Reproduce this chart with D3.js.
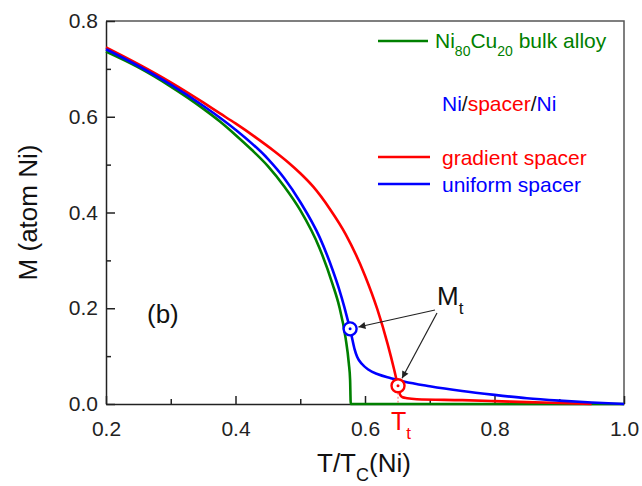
<!DOCTYPE html>
<html>
<head>
<meta charset="utf-8">
<script src="https://cdn.jsdelivr.net/npm/d3@7"></script>
<style>
  body { margin: 0; background: #fff; }
  svg { font-family: "Liberation Sans", Arial, sans-serif; }
</style>
</head>
<body>
<svg id="chart"></svg>
<script>
// data: T/Tc(Ni) vs M (atom Ni)
const bulkT = [0.2, 0.25, 0.3, 0.35, 0.376, 0.4, 0.425, 0.45, 0.475, 0.5, 0.53, 0.55, 0.56, 0.57, 0.575, 0.577, 0.578, 0.6, 1.0];
const bulkM = [0.736, 0.703, 0.663, 0.617, 0.590, 0.562, 0.531, 0.497, 0.455, 0.405, 0.325, 0.250, 0.205, 0.138, 0.085, 0.050, 0.0, 0.0, 0.0];

const uniformT = [0.2, 0.25, 0.3, 0.35, 0.376, 0.4, 0.45, 0.475, 0.5, 0.53, 0.55, 0.56, 0.568, 0.574, 0.577, 0.58, 0.584, 0.588, 0.595, 0.605, 0.62, 0.64, 0.66, 0.70, 0.75, 0.80, 0.85, 0.90, 0.95, 1.0];
const uniformM = [0.741, 0.706, 0.667, 0.623, 0.598, 0.573, 0.512, 0.472, 0.422, 0.348, 0.280, 0.240, 0.203, 0.172, 0.157, 0.138, 0.114, 0.098, 0.084, 0.072, 0.062, 0.054, 0.047, 0.037, 0.027, 0.019, 0.012, 0.007, 0.003, 0.0];

const gradientT = [0.2, 0.25, 0.3, 0.35, 0.376, 0.4, 0.43, 0.46, 0.482, 0.5, 0.52, 0.546, 0.57, 0.6, 0.619, 0.635, 0.645, 0.651, 0.654, 0.658, 0.665, 0.68, 0.75, 0.80, 0.85, 0.90, 0.95];
const gradientM = [0.745, 0.710, 0.672, 0.630, 0.607, 0.586, 0.558, 0.528, 0.504, 0.482, 0.454, 0.407, 0.355, 0.268, 0.198, 0.125, 0.072, 0.037, 0.020, 0.014, 0.012, 0.010, 0.008, 0.006, 0.004, 0.002, 0.0];

// transition points M_t
const mtT = [0.577, 0.651];
const mtM = [0.157, 0.038];

const xTicks = [0.2, 0.4, 0.6, 0.8, 1.0];
const yTicks = [0.0, 0.2, 0.4, 0.6, 0.8];

const green = '#008000', red = '#ff0000', blue = '#0000ff';

const W = 642, H = 486;
const margin = {top: 21, right: 18, bottom: 82, left: 106};
const width = W - margin.left - margin.right;
const height = H - margin.top - margin.bottom;

const svg = d3.select('#chart').attr('width', W).attr('height', H);

const x = d3.scaleLinear().domain([0.2, 1.0]).range([0, width]);
const y = d3.scaleLinear().domain([0, 0.8]).range([height, 0]);

const g = svg.append('g').attr('transform', 'translate(' + margin.left + ',' + margin.top + ')');

// frame (top/right)
g.append('path')
  .attr('d', 'M0,0H' + width + 'V' + height)
  .attr('fill', 'none').attr('stroke', '#555').attr('stroke-width', 1.5);

// axes with inward ticks
const xAxis = g.append('g').attr('transform', 'translate(0,' + height + ')')
  .call(d3.axisBottom(x).tickValues(xTicks).tickSizeInner(-8).tickSizeOuter(0).tickPadding(17).tickFormat(d3.format('.1f')));
const xMinor = g.append('g').attr('transform', 'translate(0,' + height + ')')
  .call(d3.axisBottom(x).tickValues([0.3, 0.5, 0.7, 0.9]).tickSize(-5).tickFormat(''));
const yAxis = g.append('g')
  .call(d3.axisLeft(y).tickValues(yTicks).tickSizeInner(-9).tickSizeOuter(0).tickPadding(8).tickFormat(d3.format('.1f')));
const yMinor = g.append('g')
  .call(d3.axisLeft(y).tickValues([0.1, 0.3, 0.5, 0.7]).tickSize(-5).tickFormat(''));

[xAxis, xMinor, yAxis, yMinor].forEach(a => {
  a.select('.domain').attr('stroke', '#222').attr('stroke-width', 1.5);
  a.selectAll('.tick line').attr('stroke', '#222').attr('stroke-width', 1.5);
  a.selectAll('.tick text').attr('fill', '#222').style('font-size', '21px').style('font-family', '"Liberation Sans", Arial, sans-serif');
});
xMinor.select('.domain').remove();
yMinor.select('.domain').remove();

// curves
const line = d3.line().x(d => x(d[0])).y(d => y(d[1])).curve(d3.curveMonotoneX);
const series = [
  {T: bulkT, M: bulkM, c: green},
  {T: gradientT, M: gradientM, c: red},
  {T: uniformT, M: uniformM, c: blue}
];
series.forEach(s => {
  g.append('path')
    .datum(s.T.map((t, i) => [t, s.M[i]]))
    .attr('d', line)
    .attr('fill', 'none')
    .attr('stroke', s.c)
    .attr('stroke-width', 2.6);
});

// dotted drop line below red marker
g.append('line')
  .attr('x1', x(mtT[1])).attr('x2', x(mtT[1]))
  .attr('y1', y(mtM[1]) + 7).attr('y2', y(0))
  .attr('stroke', '#ff8080').attr('stroke-width', 1.2).attr('stroke-dasharray', '2,2');

// M_t markers
const mtColors = [blue, red];
const r = 6.5;
mtT.forEach((t, i) => {
  g.append('circle').attr('cx', x(t)).attr('cy', y(mtM[i])).attr('r', r)
    .attr('fill', '#fff').attr('stroke', mtColors[i]).attr('stroke-width', 2.4);
  g.append('circle').attr('cx', x(t)).attr('cy', y(mtM[i])).attr('r', 1.5)
    .attr('fill', mtColors[i]);
});

// arrows from label M_t to markers
svg.append('defs').append('marker')
  .attr('id', 'arrow').attr('viewBox', '0 0 10 10')
  .attr('refX', 10).attr('refY', 5)
  .attr('markerWidth', 11).attr('markerHeight', 7)
  .attr('markerUnits', 'userSpaceOnUse')
  .attr('orient', 'auto')
  .append('path').attr('d', 'M0,0L10,5L0,10Z').attr('fill', '#222');

const arrowStarts = [[435 - margin.left, 310 - margin.top], [437 - margin.left, 313 - margin.top]];
mtT.forEach((t, i) => {
  const cx = x(t), cy = y(mtM[i]);
  const [sx, sy] = arrowStarts[i];
  const dx = sx - cx, dy = sy - cy, len = Math.hypot(dx, dy);
  const off = r + 2;
  g.append('line')
    .attr('x1', sx).attr('y1', sy)
    .attr('x2', cx + dx / len * off).attr('y2', cy + dy / len * off)
    .attr('stroke', '#222').attr('stroke-width', 1.2)
    .attr('marker-end', 'url(#arrow)');
});

// M_t label
const mt = svg.append('text').attr('x', 437).attr('y', 305).attr('fill', '#111').style('font-size', '26px');
mt.append('tspan').text('M');
mt.append('tspan').attr('dy', 9).style('font-size', '17px').text('t');

// T_t label
const tt = svg.append('text').attr('x', 391).attr('y', 430).attr('fill', red).style('font-size', '25px');
tt.append('tspan').text('T');
tt.append('tspan').attr('dy', 9).style('font-size', '17px').text('t');

// (b)
svg.append('text').attr('x', 147).attr('y', 323).attr('fill', '#111').style('font-size', '26px').text('(b)');

// axis titles
const xt = svg.append('text').attr('x', 317).attr('y', 472).attr('fill', '#111').style('font-size', '26px');
xt.append('tspan').text('T/T');
xt.append('tspan').attr('dy', 9).style('font-size', '18px').text('C');
xt.append('tspan').attr('dy', -9).text('(Ni)');

svg.append('text')
  .attr('transform', 'translate(37,' + (margin.top + height / 2) + ') rotate(-90)')
  .attr('text-anchor', 'middle').attr('fill', '#111').style('font-size', '26px')
  .text('M (atom Ni)');

// legend
const legend = svg.append('g');
legend.append('line').attr('x1', 378).attr('x2', 428).attr('y1', 41).attr('y2', 41).attr('stroke', green).attr('stroke-width', 2.6);
const l1 = legend.append('text').attr('x', 435).attr('y', 48).attr('fill', green).style('font-size', '21px');
l1.append('tspan').text('Ni');
l1.append('tspan').attr('dy', 8).style('font-size', '14px').text('80');
l1.append('tspan').attr('dy', -8).text('Cu');
l1.append('tspan').attr('dy', 8).style('font-size', '14px').text('20');
l1.append('tspan').attr('dy', -8).text(' bulk alloy');

const l2 = legend.append('text').attr('x', 442).attr('y', 111).style('font-size', '21px');
l2.append('tspan').attr('fill', blue).text('Ni');
l2.append('tspan').attr('fill', '#111').text('/');
l2.append('tspan').attr('fill', red).text('spacer');
l2.append('tspan').attr('fill', '#111').text('/');
l2.append('tspan').attr('fill', blue).text('Ni');

legend.append('line').attr('x1', 378).attr('x2', 430).attr('y1', 157).attr('y2', 157).attr('stroke', red).attr('stroke-width', 2.6);
legend.append('text').attr('x', 442).attr('y', 165).attr('fill', red).style('font-size', '21px').text('gradient spacer');
legend.append('line').attr('x1', 378).attr('x2', 430).attr('y1', 184).attr('y2', 184).attr('stroke', blue).attr('stroke-width', 2.6);
legend.append('text').attr('x', 442).attr('y', 192).attr('fill', blue).style('font-size', '21px').text('uniform spacer');
</script>
</body>
</html>
